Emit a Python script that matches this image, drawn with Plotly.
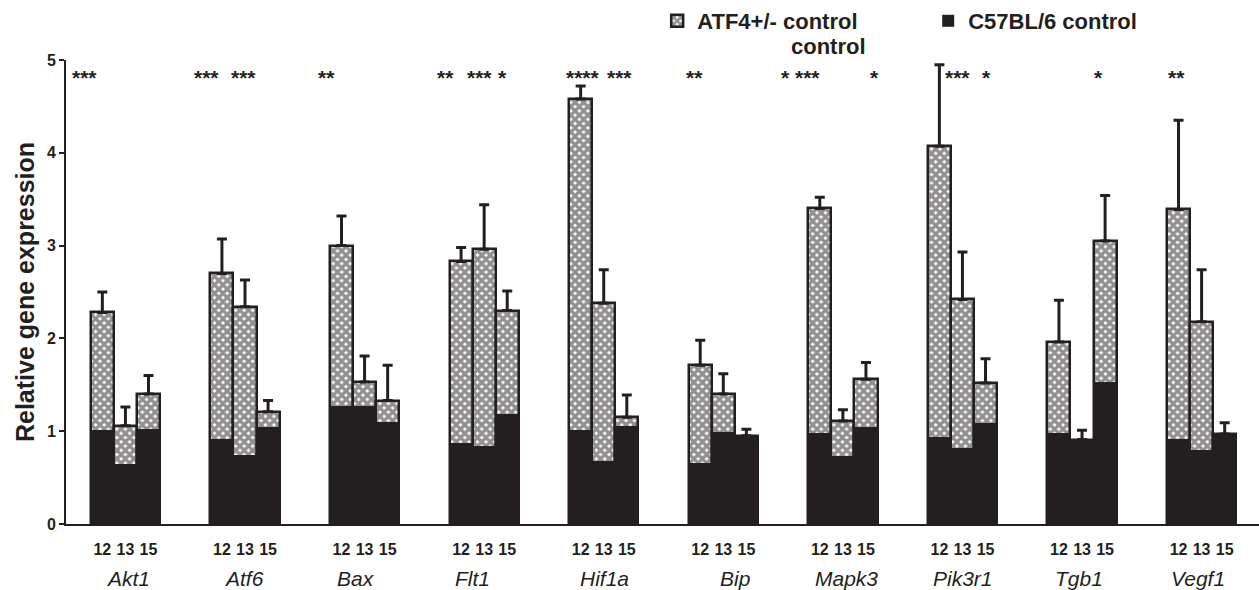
import plotly.graph_objects as go

genes = ["Akt1", "Atf6", "Bax", "Flt1", "Hif1a", "Bip", "Mapk3", "Pik3r1", "Tgb1", "Vegf1"]
ages = ["12", "13", "15"]

atf4_mean = [
    [2.28, 1.06, 1.40], [2.70, 2.34, 1.21], [3.00, 1.53, 1.33], [2.83, 2.96, 2.30],
    [4.58, 2.38, 1.15], [1.71, 1.40, 0.95], [3.40, 1.11, 1.56], [4.07, 2.42, 1.52],
    [1.96, 0.91, 3.05], [3.39, 2.18, 0.97],
]
atf4_err = [
    [0.22, 0.20, 0.20], [0.37, 0.29, 0.12], [0.32, 0.28, 0.38], [0.15, 0.48, 0.21],
    [0.14, 0.36, 0.24], [0.27, 0.22, 0.07], [0.12, 0.12, 0.18], [0.88, 0.51, 0.26],
    [0.45, 0.10, 0.49], [0.96, 0.56, 0.12],
]
c57_mean = [
    [1.01, 0.65, 1.02], [0.92, 0.74, 1.05], [1.27, 1.27, 1.10], [0.87, 0.84, 1.19],
    [1.01, 0.68, 1.06], [0.66, 0.99, 0.94], [0.98, 0.73, 1.05], [0.94, 0.82, 1.09],
    [0.98, 0.91, 1.53], [0.92, 0.80, 0.97],
]
# significance labels: (gene, text, offset from gene centre in axis units)
stars = [
    ("Akt1", "***", -0.34), ("Atf6", "***", -0.32), ("Atf6", "***", -0.01),
    ("Bax", "**", -0.315), ("Flt1", "**", -0.32), ("Flt1", "***", -0.036),
    ("Flt1", "*", 0.156), ("Hif1a", "****", -0.175), ("Hif1a", "***", 0.135),
    ("Bip", "**", -0.238), ("Mapk3", "*", -0.477), ("Mapk3", "***", -0.293),
    ("Mapk3", "*", 0.267), ("Pik3r1", "***", -0.039), ("Pik3r1", "*", 0.204),
    ("Tgb1", "*", 0.14), ("Vegf1", "**", -0.208),
]
label_shift = [3, -1, -9, -12, 1, 12, 4, 1, -3, -4]

INK = "#231f20"
BW = 0.193

xs, tick_text, a_vals, a_err, c_vals = [], [], [], [], []
for gi, g in enumerate(genes):
    for ai, a in enumerate(ages):
        xs.append(gi + (ai - 1) * BW)
        tick_text.append(a)
        a_vals.append(atf4_mean[gi][ai])
        a_err.append(atf4_err[gi][ai])
        c_vals.append(c57_mean[gi][ai])

fig = go.Figure()
fig.add_trace(go.Bar(
    x=xs, y=a_vals, width=BW, name="ATF4+/- control",
    marker=dict(color="white", line=dict(color=INK, width=2.5),
                pattern=dict(shape="x", fgcolor=INK, bgcolor="white", size=6, solidity=0.78)),
    error_y=dict(type="data", symmetric=False, array=a_err, arrayminus=[0] * len(a_err),
                 color=INK, thickness=3, width=5),
))
fig.add_trace(go.Bar(
    x=xs, y=c_vals, width=BW, name="C57BL/6 control",
    marker=dict(color=INK, line=dict(color=INK, width=0)),
))

ann = []
for g, t, off in stars:
    ann.append(dict(x=genes.index(g) + off, y=4.81, xref="x", yref="y", text="<b>" + t + "</b>",
                    showarrow=False, font=dict(family="Arial", size=21, color=INK),
                    xanchor="center", yanchor="middle"))
for gi, g in enumerate(genes):
    ann.append(dict(x=gi, y=-0.117, xref="x", yref="paper", text="<i>" + g + "</i>",
                    xshift=label_shift[gi], showarrow=False,
                    font=dict(family="Arial", size=21, color=INK),
                    xanchor="center", yanchor="middle"))
# second line of the first legend entry
ann.append(dict(x=0.606, y=1.030, xref="paper", yref="paper", text="<b>control</b>",
                showarrow=False, font=dict(family="Arial", size=22, color=INK),
                xanchor="left", yanchor="middle"))

fig.update_layout(
    width=1259, height=590,
    margin=dict(l=66, r=0, t=60, b=66, autoexpand=False),
    paper_bgcolor="white", plot_bgcolor="white",
    barmode="overlay", bargap=0,
    font=dict(family="Arial", color=INK),
    showlegend=True,
    legend=dict(orientation="h", xref="container", yref="container", x=0.522, y=1.0,
                xanchor="left", yanchor="top",
                font=dict(family="Arial", size=22, color=INK, weight="bold"),
                bgcolor="rgba(0,0,0,0)", entrywidth=226, itemclick=False),
    annotations=ann,
    xaxis=dict(range=[-0.497, 9.48], tickmode="array", tickvals=xs, ticktext=tick_text,
               showgrid=False, zeroline=False, showline=True, linecolor=INK, linewidth=2,
               ticks="", ticklabelstandoff=10, automargin=False,
               tickfont=dict(family="Arial", size=16, color=INK, weight="bold")),
    yaxis=dict(range=[0, 5], tickvals=[0, 1, 2, 3, 4, 5], showgrid=False, zeroline=False,
               showline=True, linecolor=INK, linewidth=2, ticks="outside", ticklen=5,
               tickwidth=2, tickcolor=INK, automargin=False,
               tickfont=dict(family="Arial", size=16, color=INK, weight="bold"),
               title=dict(text="Relative gene expression", standoff=5,
                          font=dict(family="Arial", size=25, color=INK, weight="bold"))),
)

fig.write_html("out.html", post_script="document.body.style.margin='0';",
               config={"displayModeBar": False})
